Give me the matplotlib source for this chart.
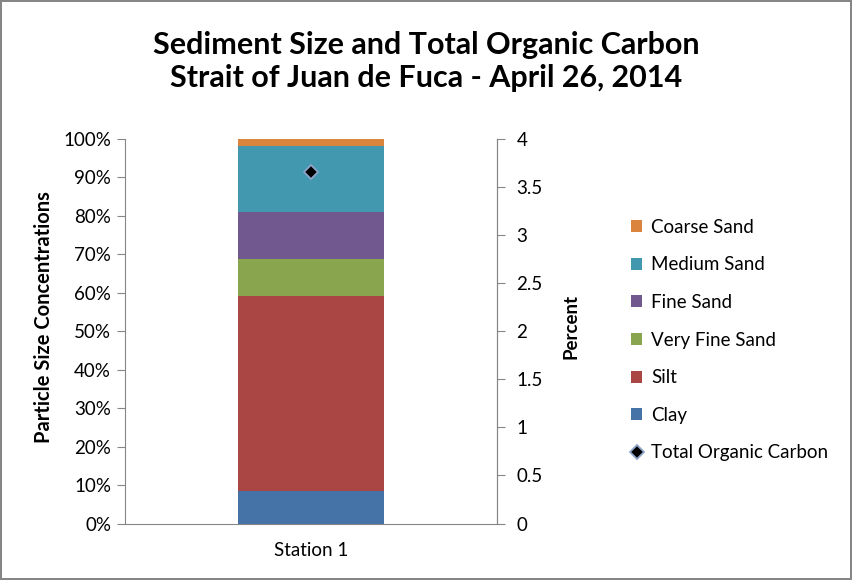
import matplotlib.pyplot as plt
import numpy as np

plt.rcParams['font.family'] = ['Lato', 'DejaVu Sans']

stations = ['Station 1']
layers = ['Clay', 'Silt', 'Very Fine Sand', 'Fine Sand', 'Medium Sand', 'Coarse Sand']
clay = [8.5]
silt = [50.7]
very_fine_sand = [9.6]
fine_sand = [12.3]
medium_sand = [17.2]
coarse_sand = [1.7]
toc = [3.66]

colors = ['#4572A7', '#AA4643', '#89A54E', '#71588F', '#4198AF', '#DB843D']
grey = '#868686'

fig = plt.figure(figsize=(8.52, 5.8), dpi=100)
fig.patch.set_edgecolor(grey)
fig.patch.set_linewidth(1.5)

ax = fig.add_axes([0.1467, 0.0974, 0.4366, 0.6629])
x = np.arange(len(stations))
bottom = np.zeros(len(stations))
handles = []
for name, vals, c in zip(layers, [clay, silt, very_fine_sand, fine_sand, medium_sand, coarse_sand], colors):
    b = ax.bar(x, vals, 0.395, bottom=bottom, color=c, label=name, zorder=2)
    bottom += np.array(vals)
    handles.append(b)

ax.set_xlim(-0.5, 0.5)
ax.set_ylim(0, 100)
ax.set_yticks(np.arange(0, 101, 10))
ax.set_yticklabels([f'{v}%' for v in range(0, 101, 10)])
ax.set_xticks(x)
ax.set_xticklabels(stations)
ax.tick_params(axis='x', length=0, pad=13, labelsize=13.5)
ax.tick_params(axis='y', length=6, color=grey, labelsize=13.5, pad=4)
ax.spines['top'].set_visible(False)
for s in ['left', 'right', 'bottom']:
    ax.spines[s].set_color(grey)
ax.set_ylabel('Particle Size Concentrations', fontsize=14.5, fontweight='bold',
              labelpad=7, y=0.536)

ax2 = ax.twinx()
ax2.set_ylim(0, 4)
ax2.set_yticks(np.arange(0, 4.01, 0.5))
ax2.set_yticklabels(['0', '0.5', '1', '1.5', '2', '2.5', '3', '3.5', '4'])
ax2.tick_params(axis='y', length=6, color=grey, labelsize=13.5, pad=8)
for s in ['top', 'left', 'bottom']:
    ax2.spines[s].set_visible(False)
ax2.spines['right'].set_color(grey)
ax2.set_ylabel('Percent', fontsize=13.5, fontweight='bold', labelpad=14, y=0.512)
m, = ax2.plot(x, toc, linestyle='none', marker='D', markersize=7.5,
              markerfacecolor='black', markeredgecolor='#8EA4C8', markeredgewidth=1.3,
              label='Total Organic Carbon', zorder=5)

leg_handles = handles[::-1] + [m]
leg_labels = layers[::-1] + ['Total Organic Carbon']
fig.legend(leg_handles, leg_labels, loc='upper left', bbox_to_anchor=(0.721, 0.652),
           frameon=False, fontsize=13.5, handlelength=0.6, handleheight=0.6,
           handletextpad=0.45, labelspacing=1.1)

fig.text(0.5, 0.894, 'Sediment Size and Total Organic Carbon\nStrait of Juan de Fuca - April 26, 2014',
         ha='center', va='center', fontsize=22, fontweight='bold', linespacing=1.2)

fig.savefig('out.png', dpi=100, edgecolor=fig.get_edgecolor())
